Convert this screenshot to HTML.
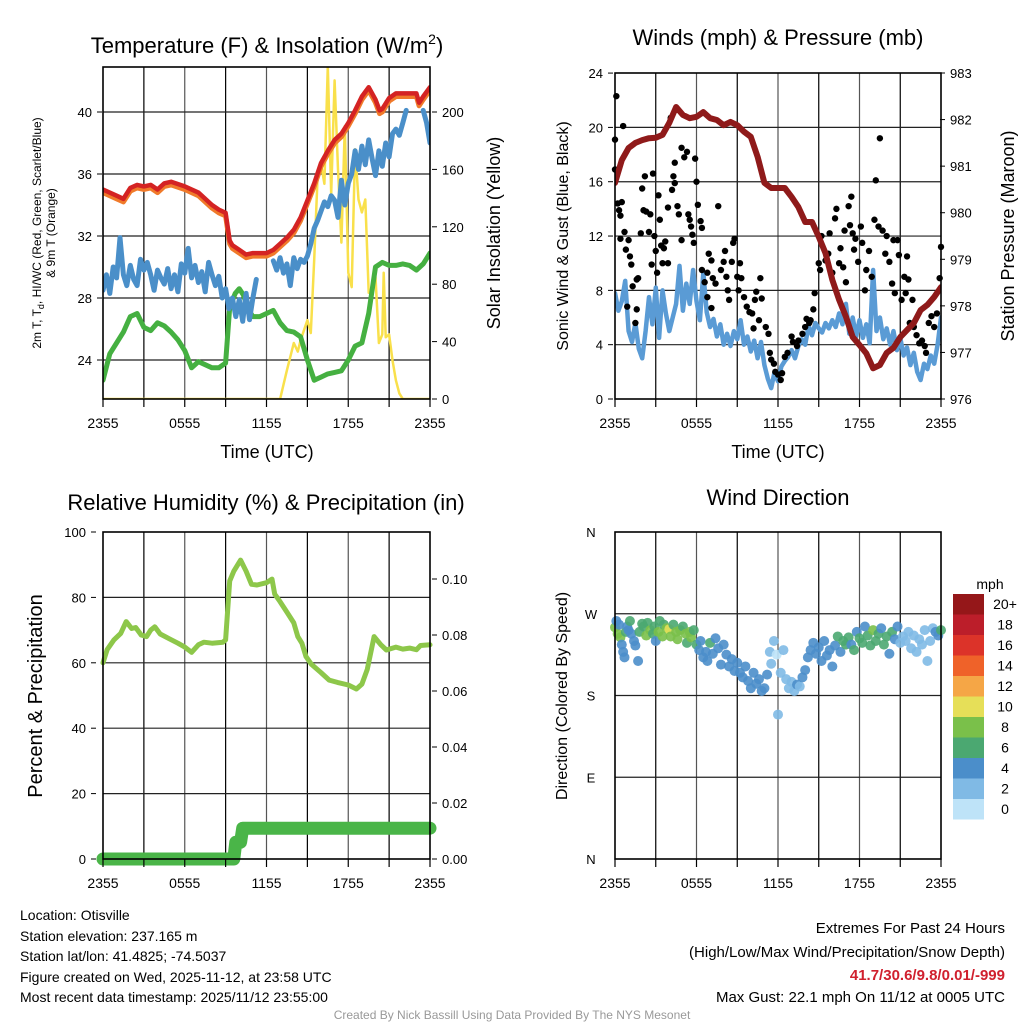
<!DOCTYPE html>
<html><head><meta charset="utf-8"><style>
html,body{margin:0;padding:0;background:#fff;}
svg{display:block;font-family:"Liberation Sans",sans-serif;}
</style></head><body>
<svg id="root" xmlns="http://www.w3.org/2000/svg" width="1024" height="1024" viewBox="0 0 1024 1024">
<defs>
<clipPath id="c1"><rect x="103" y="67" width="327" height="332"/></clipPath>
<clipPath id="c2"><rect x="615" y="73" width="326" height="326"/></clipPath>
</defs>
<rect x="0" y="0" width="1024" height="1024" fill="#fff"/>
<g id="grid"></g>
<g id="marks"></g>
<g id="axes"></g>

<text x="267" y="53" font-size="22" text-anchor="middle">Temperature (F) &amp; Insolation (W/m<tspan font-size="14" dy="-9">2</tspan><tspan dy="9">)</tspan></text>
<text x="778" y="45" font-size="22" text-anchor="middle">Winds (mph) &amp; Pressure (mb)</text>
<text x="266" y="510" font-size="22" text-anchor="middle">Relative Humidity (%) &amp; Precipitation (in)</text>
<text x="778" y="505" font-size="22" text-anchor="middle">Wind Direction</text>

<text transform="translate(41,233) rotate(-90)" font-size="12" text-anchor="middle">2m T, T<tspan font-size="9" dy="3">d</tspan><tspan dy="-3">, HI/WC (Red, Green, Scarlet/Blue)</tspan></text>
<text transform="translate(55,233) rotate(-90)" font-size="12" text-anchor="middle">&amp; 9m T (Orange)</text>
<text transform="translate(500,233) rotate(-90)" font-size="18" text-anchor="middle">Solar Insolation (Yellow)</text>
<text transform="translate(568,236) rotate(-90)" font-size="16" text-anchor="middle">Sonic Wind &amp; Gust (Blue, Black)</text>
<text transform="translate(1014,236) rotate(-90)" font-size="18" text-anchor="middle">Station Pressure (Maroon)</text>
<text transform="translate(42,696) rotate(-90)" font-size="20" text-anchor="middle">Percent &amp; Precipitation</text>
<text transform="translate(567,696) rotate(-90)" font-size="16" text-anchor="middle">Direction (Colored By Speed)</text>
<text x="267" y="458" font-size="18" text-anchor="middle">Time (UTC)</text>
<text x="778" y="458" font-size="18" text-anchor="middle">Time (UTC)</text>

<g font-size="14">
<text x="20" y="920">Location: Otisville</text>
<text x="20" y="941">Station elevation: 237.165 m</text>
<text x="20" y="961">Station lat/lon: 41.4825; -74.5037</text>
<text x="20" y="982">Figure created on Wed, 2025-11-12, at 23:58 UTC</text>
<text x="20" y="1002">Most recent data timestamp: 2025/11/12 23:55:00</text>
</g>
<g font-size="15" text-anchor="end">
<text x="1005" y="933">Extremes For Past 24 Hours</text>
<text x="1005" y="957">(High/Low/Max Wind/Precipitation/Snow Depth)</text>
<text x="1005" y="980" fill="#D0202E" font-weight="bold">41.7/30.6/9.8/0.01/-999</text>
<text x="1005" y="1002">Max Gust: 22.1 mph On 11/12 at 0005 UTC</text>
</g>
<text x="512" y="1019" font-size="12" fill="#999" text-anchor="middle">Created By Nick Bassill Using Data Provided By The NYS Mesonet</text>

<text x="990" y="589" font-size="14" text-anchor="middle">mph</text>
<g id="cbar"></g>

<script>
// ---------- Panel 1 data ----------
const tempH = [0,1,1.5,2,2.5,3,3.5,4,4.5,5,6,7,8,8.5,9,9.3,9.5,10,10.5,11,11.5,12,12.5,13,13.5,14,14.5,15,15.5,16,16.5,17,17.5,18,18.5,19,19.5,20,20.3,20.5,21,21.5,22,22.5,23,23.2,23.5,24];
const tempT = [35.0,34.6,34.4,35.1,35.3,35.2,35.3,35.0,35.4,35.5,35.2,34.8,34.0,33.7,33.5,31.7,31.4,31.1,30.8,30.9,30.9,30.9,31.1,31.5,31.9,32.4,33.2,34.3,35.4,36.7,37.5,38.2,38.6,39.3,40.1,41.0,41.6,40.8,40.1,40.2,40.9,41.2,41.2,41.2,41.2,40.6,41.0,41.6];
const temp9m = [34.8,34.4,34.2,34.9,35.1,35.0,35.1,34.8,35.2,35.3,35.0,34.6,33.8,33.5,33.3,31.5,31.2,30.9,30.6,30.7,30.7,30.7,30.9,31.3,31.7,32.2,33.0,34.1,35.2,36.5,37.3,38.0,38.4,39.1,39.9,40.8,41.4,40.6,39.9,40.0,40.7,41.0,41.0,41.0,41.0,40.4,40.8,41.4];
const dewH = [0,0.5,1,1.5,2,2.5,3,3.5,4,4.5,5,5.5,6,6.5,7,7.5,8,8.5,9,9.3,9.7,10,10.3,10.7,11,11.5,12,12.5,13,13.5,14,14.5,15,15.5,16,16.5,17,17.5,18,18.5,19,19.5,20,20.5,21,21.5,22,22.5,23,23.5,24];
const dewT = [22.7,24.4,25.1,25.8,26.8,27.0,26.1,25.9,26.4,26.2,25.8,25.3,24.6,23.5,23.9,23.7,23.5,23.5,23.8,27.4,28.3,28.6,28.2,27.2,26.8,26.8,27.0,27.2,26.4,25.9,25.8,25.5,24.0,22.7,22.9,23.1,23.2,23.3,24.0,24.9,25.1,27.0,30.0,30.3,30.1,30.1,30.2,30.1,29.8,30.2,30.9];
// HI/WC, one value every 15 minutes
const hiwcT = [28.5,29.5,28.3,30.0,29.3,31.9,29.5,28.8,30.1,29.2,28.8,30.5,
29.8,30.3,29.5,28.5,29.8,29.3,28.9,29.9,28.6,29.5,28.4,30.2,
29.6,31.2,29.3,30.1,29.0,29.7,28.4,30.3,29.5,28.8,29.4,28.0,
28.6,27.3,28.0,26.8,27.9,26.5,28.3,26.6,28.0,29.2,null,null,
null,null,30.4,29.8,30.6,29.6,30.2,28.8,30.6,29.9,30.5,30.3,
30.7,31.5,32.5,33.0,33.6,34.2,33.9,34.6,34.3,33.2,35.6,34.0,
35.4,36.0,37.5,36.3,37.8,36.6,38.2,37.0,35.9,37.5,36.5,38.0,
37.1,38.6,38.9,38.5,39.3,40.1,null,null,null,null,40.1,39.3,
38.0];
const solH = [0,13,13.5,14,14.3,14.5,15,15.25,15.5,15.75,16,16.25,16.5,16.75,17,17.25,17.5,17.75,18,18.25,18.5,18.75,19,19.25,19.5,19.75,20,20.25,20.5,20.6,20.75,21,21.25,21.5,21.75,22,24];
const solV = [0,0,20,39,33,41,55,46,97,155,164,150,232,143,222,160,109,190,88,78,174,139,130,139,74,74,85,39,45,88,43,45,27,13,4,0,0];
const tempTicks = [24,28,32,36,40];
const solTicks = [0,40,80,120,160,200];
const timeTicks = ["2355","0555","1155","1755","2355"];

// ---------- Panel 2 data ----------
const presV = [980.64,981.13,981.39,981.50,981.56,981.60,981.61,981.67,981.93,982.27,
982.10,982.03,982.06,982.16,982.03,981.99,981.88,981.95,981.88,981.74,
981.63,981.20,980.64,980.53,980.53,980.53,980.34,980.12,979.80,979.80,
979.48,979.13,978.56,978.13,977.77,977.33,977.16,976.98,976.66,976.73,
976.99,977.10,977.33,977.48,977.63,977.91,978.02,978.19,978.40];
const windV = [7.8,6.5,7.2,8.7,5.0,4.2,5.6,3.7,3.0,5.0,7.5,5.5,
8.2,4.5,8.0,6.3,5.0,6.0,7.0,9.8,6.5,8.5,7.0,9.5,
7.2,5.8,9.3,6.4,5.3,5.9,4.6,5.5,4.0,4.8,3.9,5.0,
4.4,5.8,4.0,4.6,3.5,4.3,3.0,4.2,2.5,1.5,0.8,2.0,
1.3,2.4,2.8,3.1,3.6,3.0,3.9,4.4,4.0,5.4,4.7,5.6,
5.2,4.9,5.6,5.2,5.8,5.3,6.3,5.5,7.0,4.8,6.0,4.6,
5.8,4.5,5.5,4.1,9.5,5.0,6.0,4.4,5.2,4.0,5.0,3.6,
4.5,3.2,3.8,2.5,3.4,2.0,1.4,2.6,2.2,3.2,2.6,4.0,
6.0];
const gustH = [0.1,0,0,0.6,0.2,0.5,0.3,0.4,0.7,0.4,1,0.8,1.1,1.2,1.7,1.3,1.6,0.9,1.6,1.5,2,2.2,2.8,1.9,2.1,2.3,2.6,2.5,2.9,3,3.1,2.7,3.2,3.3,3.4,3.6,3.7,3.5,3.9,3.9,4.1,4.2,4.3,4.4,4.4,4.6,4.7,4.9,4.9,5.1,5.3,5.4,5.5,5.6,5.7,5.8,5.9,6,6.1,6.3,6.4,6.4,6.6,6.8,6.9,7.1,7.2,7.4,7.1,6.8,7.6,7.8,8,8.1,8.2,8.3,8.4,8.6,8.7,8.8,9,9.1,9.2,9.3,9.5,9.7,9.9,10.1,10.2,10.3,10.4,10.6,10.7,10.8,11.1,11.3,11.4,11.5,11.7,11.8,12,12.2,12.3,12.5,12.7,13,13.1,13.4,13.5,13.8,14,14.1,14.3,14.4,14.6,14.7,15,15.1,15.2,15.5,15.7,15.8,16,16.2,16.3,16.5,16.6,16.8,16.9,17,17.2,17.3,17.4,17.5,17.6,17.7,17.9,18.1,18.2,18.4,18.5,18.7,18.9,19.1,19.2,19.4,19.5,19.7,19.9,20,20.2,20.4,20.5,20.6,20.8,20.9,21.1,21.3,21.4,21.5,21.6,21.7,21.9,22,22.2,22.4,22.6,22.8,22.9,23.1,23.3,23.5,23.7,23.9,24];
const gustV = [22.3,19.1,16.9,20.1,14.4,14.5,13.9,13.5,12.3,11.8,11.7,11,10.5,9.9,8.9,8.3,8.8,6.8,6.6,5.6,15.5,16.4,16.6,12.2,13.9,13.8,13.6,12.3,12,10.9,9.3,9.9,15,13.2,11.3,11.1,11.6,10,14.1,10,20.7,15.4,16.4,17.4,15.9,14.2,13.6,11.7,18.5,17.8,18.2,13.6,13.2,12.7,12.1,11.5,17.7,16,14.3,13.1,12.6,9.5,8.6,9.3,10.7,10.2,8.9,8.5,6.7,7.5,14.2,9.5,10.1,10.9,9,8,7.3,10.1,11.5,11.8,9,8,10,8.9,7.5,6.8,6.4,6.3,5.2,7.3,7.9,5.8,8.9,7.4,5.3,4.8,3.4,2.9,2.6,2,1.8,1.4,1.9,3.1,3.4,4.6,4.2,3.9,4.3,4.8,5.3,5.9,5.6,5.8,6.6,7.8,10,9.5,12,10.2,10.7,12.2,9.3,13.3,14,10,11.1,9.7,12.4,8.6,14.2,12.8,14.9,12.2,11,11.8,10.1,12.7,11.5,8,9.5,10.9,9,13.2,16.1,12.7,19.2,12.4,10.7,12,10.1,8.5,11.7,7.8,11.7,10.6,7.3,9,7.8,10.5,8.8,5.6,7.3,5.3,4.7,4.1,4.3,3.9,3.4,5.6,6.1,5.3,6.3,8.9,11.2];
const windTicks = [0,4,8,12,16,20,24];
const presTicks = [976,977,978,979,980,981,982,983];

// ---------- Panel 3 data ----------
const rhH = [0,0.3,0.8,1.3,1.7,2.1,2.4,2.8,3.2,3.5,3.8,4.2,4.8,5.5,6.0,6.5,7.0,7.4,8.0,8.8,9.0,9.3,9.6,10.1,10.5,10.9,11.3,12.0,12.4,12.6,13.0,13.5,14.0,14.3,14.6,14.9,15.3,16.0,16.6,17.2,18.0,18.6,19.0,19.4,19.9,20.4,20.8,21.5,22.0,22.5,23.0,23.3,24];
const rhV = [60,64,67,69,72.6,70.5,70.8,68.5,68,70,71,68.8,67.5,66,64.8,63.2,65.5,66.3,66,66.3,67,85,88,91.4,88,84,83.8,84.5,85.6,81,78.7,75.5,72.2,68,66,61.9,59.5,57,54.7,54,53.2,52,53.5,58,68,65.5,63.9,64.8,64.2,64.5,64,65.3,65.5];
const prH = [0,9.6,9.75,10.1,10.25,24];
const prV = [0,0,0.006,0.006,0.011,0.011];
const rhTicks = [0,20,40,60,80,100];
const prTicks = ["0.00","0.02","0.04","0.06","0.08","0.10"];

// ---------- Panel 4 data ----------
const wdH = [0,0.1,0.2,0.3,0.4,0.5,0.6,0.7,0.8,0.9,
1.0,1.1,1.2,1.4,1.5,1.7,1.8,2.0,2.1,2.3,
2.4,2.6,2.8,2.9,3.0,3.2,3.3,3.5,3.6,3.8,
4.0,4.1,4.3,4.5,4.6,4.8,5.0,5.2,5.3,5.5,
5.6,5.8,6.0,6.2,6.3,6.5,6.7,6.8,7.0,7.2,
7.4,7.6,7.8,8.0,8.2,8.4,8.6,8.8,9.0,9.2,
9.4,9.6,9.8,10.0,10.2,10.4,10.6,10.8,11.0,11.2,
11.4,11.5,11.7,11.9,12.0,12.2,12.4,12.6,12.8,13.0,
13.2,13.4,13.6,13.8,14.0,14.2,14.4,14.6,14.8,15.0,
15.2,15.4,15.6,15.8,16.0,16.2,16.4,16.6,16.8,17.0,
17.2,17.4,17.6,17.8,18.0,18.2,18.4,18.6,18.8,19.0,
19.2,19.4,19.6,19.8,20.0,20.2,20.4,20.6,20.8,21.0,
21.2,21.4,21.6,21.8,22.0,22.2,22.4,22.6,22.8,23.0,
23.2,23.4,23.6,23.8,24.0];
const wdDir = [255,262,248,258,244,236,228,222,250,256,
252,262,248,240,235,218,250,259,256,246,
260,252,248,256,240,250,262,245,258,254,
253,245,258,250,242,252,256,248,238,250,
244,252,236,230,240,222,228,218,238,226,
243,232,214,236,225,212,220,207,216,205,
200,212,196,188,205,193,198,185,188,203,
228,215,240,225,159,205,230,198,188,195,
185,192,190,200,208,222,230,238,226,233,
218,240,224,230,212,235,245,228,240,236,
244,236,230,250,243,238,256,246,235,252,
240,248,254,236,245,226,250,242,256,238,
245,240,250,232,246,228,242,236,252,218,
240,254,250,246,252];
const wdSpd = [7,4,8,4,7,4,4,4,6,4,
4,6,4,4,4,3,6,6,5,8,
6,7,6,5,4,7,5,8,6,7,
10,8,6,8,7,8,6,8,6,7,
7,6,6,4,4,4,4,4,6,4,
4,4,3,4,4,4,4,4,4,4,
4,4,4,4,4,4,3,4,4,4,
2,1,2,0,1,2,2,2,2,2,
2,4,2,4,3,4,4,4,4,4,
4,4,4,4,4,4,5,4,6,6,
6,4,6,4,6,6,4,6,6,8,
6,6,4,6,6,4,6,4,4,2,
2,2,2,2,2,2,2,2,2,2,
2,2,4,4,6];
const dirTicks = ["N","E","S","W","N"];
const cbarLabels = ["20+","18","16","14","12","10","8","6","4","2","0"];
const cbarColors = ["#951719","#BC1E2A","#DC3329","#EF6229","#F5A646","#E6DF58","#7AC04A","#4BA871","#4B8ECA","#80BAE5","#BEE3F8"];

// ---------- axis functions ----------
const P1 = {l:103, r:430, t:67, b:399};
const P2 = {l:615, r:941, t:73, b:399};
const P3 = {l:103, r:430, t:532, b:859};
const P4 = {l:615, r:941, t:532, b:859};
const xL = h => P1.l + h * (P1.r - P1.l) / 24;
const xR = h => P2.l + h * (P2.r - P2.l) / 24;
const yTemp = t => 360 - (t - 24) * 15.5;
const ySol = v => P1.b - v * 1.435;
const yWind = v => P2.b - v * 13.58;
const yPres = p => P2.b - (p - 976) * 46.57;
const yRH = v => P3.b - v * 3.27;
const yPr = v => P3.b - v * 2800;
const yDir = d => P4.b - d * 0.9083;

const NS = "http://www.w3.org/2000/svg";
const G = document.getElementById("grid"), M = document.getElementById("marks"), A = document.getElementById("axes");
function mk(tag, attrs, parent) { const e = document.createElementNS(NS, tag); for (const k in attrs) e.setAttribute(k, attrs[k]); parent.appendChild(e); return e; }

function polyPath(xs, ys) {
  let d = "", pen = false;
  for (let i = 0; i < xs.length; i++) {
    if (ys[i] === null || isNaN(ys[i])) { pen = false; continue; }
    d += (pen ? "L" : "M") + xs[i].toFixed(1) + "," + ys[i].toFixed(1);
    pen = true;
  }
  return d;
}
function line(xs, ys, color, w, name, clip) {
  const e = mk("path", {d: polyPath(xs, ys), fill: "none", stroke: color, "stroke-width": w, "stroke-linejoin": "round", "stroke-linecap": "round"}, M);
  if (clip) e.setAttribute("clip-path", "url(#" + clip + ")");
  
  
  return e;
}

// ---------- grids & frames ----------
function panelFrame(P, hTicksY, name) {
  for (let i = 1; i < 8; i++) {
    const x = P.l + i * (P.r - P.l) / 8;
    const g = mk("line", {x1: x, x2: x, y1: P.t, y2: P.b, stroke: i % 2 ? "#000" : "#555", "stroke-width": 1.2}, G);
    
    
  }
  for (let i = 0; i <= 8; i++) {
    const x = P.l + i * (P.r - P.l) / 8;
    const tk = mk("line", {x1: x, x2: x, y1: P.b, y2: P.b + 8, stroke: "#000", "stroke-width": 1.2}, A);
    
    
  }
  hTicksY.forEach(y => {
    const g = mk("line", {x1: P.l, x2: P.r, y1: y, y2: y, stroke: "#222", "stroke-width": 1.2}, G);
    
    
  });
  const f = mk("rect", {x: P.l, y: P.t, width: P.r - P.l, height: P.b - P.t, fill: "none", stroke: "#000", "stroke-width": 1.6}, A);
  
  
  timeTicks.forEach((lab, i) => {
    const x = P.l + i * (P.r - P.l) / 4;
    const t = mk("text", {x: x, y: P.b + 29, "font-size": 14, "text-anchor": "middle"}, A);
    t.textContent = lab;
    
    
  });
}
function yLabels(vals, yf, x, anchor) {
  vals.forEach(v => {
    const y = yf(typeof v === "string" ? parseFloat(v) : v);
    const side = anchor === "end" ? -1 : 1;
    const bx = anchor === "end" ? x + 10 : x - 10;
    const tk = mk("line", {x1: bx, x2: bx + side * 5, y1: y, y2: y, stroke: "#000"}, A);
    
    
    const t = mk("text", {x: x, y: y + 5, "font-size": 13, "text-anchor": anchor}, A);
    t.textContent = v;
    
    
  });
}
panelFrame(P1, tempTicks.map(yTemp), "temp-panel");
panelFrame(P2, windTicks.slice(1, -1).map(yWind), "wind-panel");
panelFrame(P3, rhTicks.slice(1, -1).map(yRH), "rh-panel");
panelFrame(P4, [yDir(90), yDir(180), yDir(270)], "direction-panel");
yLabels(tempTicks, yTemp, 92, "end");
yLabels(solTicks, ySol, 442, "start");
yLabels(windTicks, yWind, 603, "end");
yLabels(presTicks, yPres, 950, "start");
yLabels(rhTicks, yRH, 86, "end");
yLabels(prTicks, yPr, 442, "start");
dirTicks.forEach((lab, i) => {
  const y = yDir(i * 90);
  const t = mk("text", {x: 591, y: y + 5, "font-size": 13, "text-anchor": "middle"}, A);
  t.textContent = lab;
  
  
});

// ---------- Panel 1 marks ----------
line(solH.map(xL), solV.map(ySol), "#F9E04B", 2.5, "solar-insolation-line", "c1");
line(dewH.map(xL), dewT.map(yTemp), "#45B041", 5, "dewpoint-line", "c1");
line(hiwcT.map((v, i) => xL(i * 0.25)), hiwcT.map(v => v === null ? null : yTemp(v)), "#4A8FC9", 5, "heat-index-windchill-line", "c1");
line(tempH.map(xL), temp9m.map(yTemp), "#F07A2A", 5, "temp-9m-line", "c1");
line(tempH.map(xL), tempT.map(yTemp), "#D42323", 4.5, "temp-2m-line", "c1");

// ---------- Panel 2 marks ----------
line(windV.map((v, i) => xR(i * 0.25)), windV.map(yWind), "#5A9BD5", 4.5, "sonic-wind-line", "c2");
gustH.forEach((h, i) => {
  const c = mk("circle", {cx: xR(h), cy: yWind(gustV[i]), r: 3.2, fill: "#000"}, M);
  
  
});
line(presV.map((v, i) => xR(i * 0.5)), presV.map(yPres), "#8F1A1A", 6, "pressure-line", "c2");

// ---------- Panel 3 marks ----------
line(rhH.map(xL), rhV.map(yRH), "#8DC74A", 5, "relative-humidity-line");
line(prH.map(xL), prV.map(yPr), "#4AB548", 13, "precipitation-line");

// ---------- Panel 4 marks ----------
function spdColor(s) {
  const idx = Math.min(10, Math.floor((s + 1) / 2));
  return cbarColors[10 - idx];
}
wdH.forEach((h, i) => {
  const c = mk("circle", {cx: xR(h), cy: yDir(wdDir[i]), r: 5, fill: spdColor(wdSpd[i]), "fill-opacity": 0.9}, M);
  
  
});

// ---------- colorbar ----------
const CB = document.getElementById("cbar");
cbarLabels.forEach((lab, i) => {
  const y = 594 + i * 20.5;
  const r = mk("rect", {x: 953, y: y, width: 31, height: 20.5, fill: cbarColors[i]}, CB);
  
  
  const t = mk("text", {x: 1005, y: y + 15, "font-size": 14, "text-anchor": "middle"}, CB);
  t.textContent = lab;
  
  
});
</script>
</svg>
</body></html>
